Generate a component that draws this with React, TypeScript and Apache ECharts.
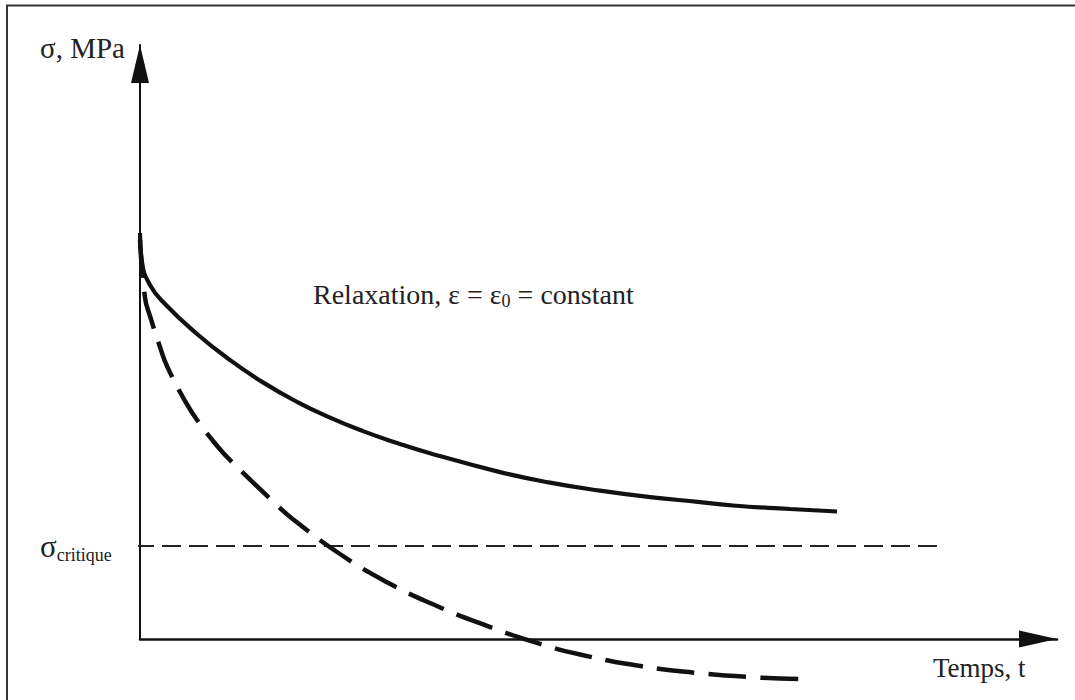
import React, { useEffect, useRef } from "react";
import * as echarts from "echarts";

// Solid curve: relaxation at constant strain (time, stress) in arbitrary units
const solidTime = [0, 0.22, 1.09, 2.73, 6.22, 9.81, 13.41, 17.12, 20.72, 24.32, 28.03, 31.62, 39.26, 44.71, 50.16, 55.62, 61.07, 64.67, 70.88, 76.01];
const solidStress = [68.35, 63.47, 59.6, 56.4, 51.35, 46.97, 43.2, 39.93, 37.27, 35.0, 33.0, 31.28, 28.1, 26.33, 24.98, 23.89, 23.05, 22.47, 21.89, 21.46];

// Dashed curve: faster relaxation, falling below the critical stress
const dashedTime = [0, 0.55, 1.09, 2.18, 2.94, 4.91, 6.22, 8.51, 9.81, 15.27, 16.68, 21.81, 26.94, 31.95, 37.84, 43.29, 47.98, 54.74, 60.74, 66.52, 72.3];
const dashedStress = [67.17, 57.41, 54.38, 49.16, 45.96, 40.07, 36.87, 32.32, 30.13, 22.05, 20.17, 14.31, 9.56, 5.84, 2.21, -0.66, -2.61, -4.6, -5.71, -6.41, -6.77];

// Critical stress level (horizontal dashed line)
const criticalStress = 15.66;
const criticalTimeSpan = [-3.49, 86.91];

const yTitle = "σ, MPa";
const xTitle = "Temps, t";
const annotationMain = ["Relaxation, ε = ε", "0", " = constant"];
const criticalLabel = ["σ", "critique"];

const FONT = "'Liberation Serif', 'Times New Roman', serif";
const INK = "#111";
const TEXT = "#222";

export default function App() {
  const ref = useRef<HTMLDivElement>(null);

  useEffect(() => {
    if (!ref.current) return;
    const chart = echarts.init(ref.current, null, { renderer: "svg" });

    const solidData = solidTime.map((t, i) => [t, solidStress[i]]);
    const dashedData = dashedTime.map((t, i) => [t, dashedStress[i]]);
    const criticalData = criticalTimeSpan.map((t) => [t, criticalStress]);

    chart.setOption({
      animation: false,
      backgroundColor: "#ffffff",
      grid: { left: 140, right: 18, top: 45, bottom: 61, containLabel: false },
      xAxis: {
        type: "value",
        min: 0,
        max: 100,
        axisLine: {
          show: true,
          onZero: false,
          symbol: ["none", "triangle"],
          symbolSize: [17, 38],
          symbolOffset: [0, -19],
          lineStyle: { color: INK, width: 2.5 },
        },
        axisTick: { show: false },
        axisLabel: { show: false },
        splitLine: { show: false },
      },
      yAxis: {
        type: "value",
        min: 0,
        max: 100,
        axisLine: {
          show: true,
          onZero: false,
          symbol: ["none", "triangle"],
          symbolSize: [18, 38],
          symbolOffset: [0, -19],
          lineStyle: { color: INK, width: 2 },
        },
        axisTick: { show: false },
        axisLabel: { show: false },
        splitLine: { show: false },
      },
      series: [
        {
          name: "critique",
          type: "line",
          data: criticalData,
          symbol: "none",
          clip: false,
          silent: true,
          lineStyle: { color: "#222", width: 2.2, type: [19, 8] },
          z: 2,
        },
        {
          name: "relaxation",
          type: "line",
          data: solidData,
          symbol: "none",
          smooth: 0.5,
          clip: false,
          silent: true,
          lineStyle: { color: INK, width: 4.2 },
          z: 3,
        },
        {
          name: "relaxation rapide",
          type: "line",
          data: dashedData,
          symbol: "none",
          smooth: 0.5,
          clip: false,
          silent: true,
          lineStyle: { color: INK, width: 4.5, type: [38, 14] },
          z: 3,
        },
      ],
      graphic: [
        {
          type: "polyline",
          silent: true,
          shape: { points: [[7, 700], [7, 5.5], [1075, 5.5]] },
          style: { stroke: "#333", lineWidth: 2, fill: null },
        },
        {
          type: "text",
          x: 40,
          y: 48,
          style: { text: yTitle, font: `29px ${FONT}`, fill: TEXT, verticalAlign: "middle" },
        },
        {
          type: "text",
          x: 933,
          y: 668,
          style: { text: xTitle, font: `27px ${FONT}`, fill: TEXT, verticalAlign: "middle" },
        },
        {
          type: "text",
          x: 313,
          y: 294,
          style: {
            text: `{m|${annotationMain[0]}}{s|${annotationMain[1]}}{m|${annotationMain[2]}}`,
            verticalAlign: "middle",
            rich: {
              m: { font: `28px ${FONT}`, fill: TEXT },
              s: { font: `18px ${FONT}`, fill: TEXT, padding: [14, 0, 0, 0] },
            },
          },
        },
        {
          type: "text",
          x: 40,
          y: 546,
          style: {
            text: `{m|${criticalLabel[0]}}{s|${criticalLabel[1]}}`,
            verticalAlign: "middle",
            rich: {
              m: { font: `31px ${FONT}`, fill: TEXT },
              s: { font: `18px ${FONT}`, fill: TEXT, padding: [18, 0, 0, 0] },
            },
          },
        },
      ],
    });

    return () => chart.dispose();
  }, []);

  return (
    <div
      ref={ref}
      style={{ position: "fixed", left: 0, top: 0, width: 1075, height: 700, background: "#fff" }}
    />
  );
}
